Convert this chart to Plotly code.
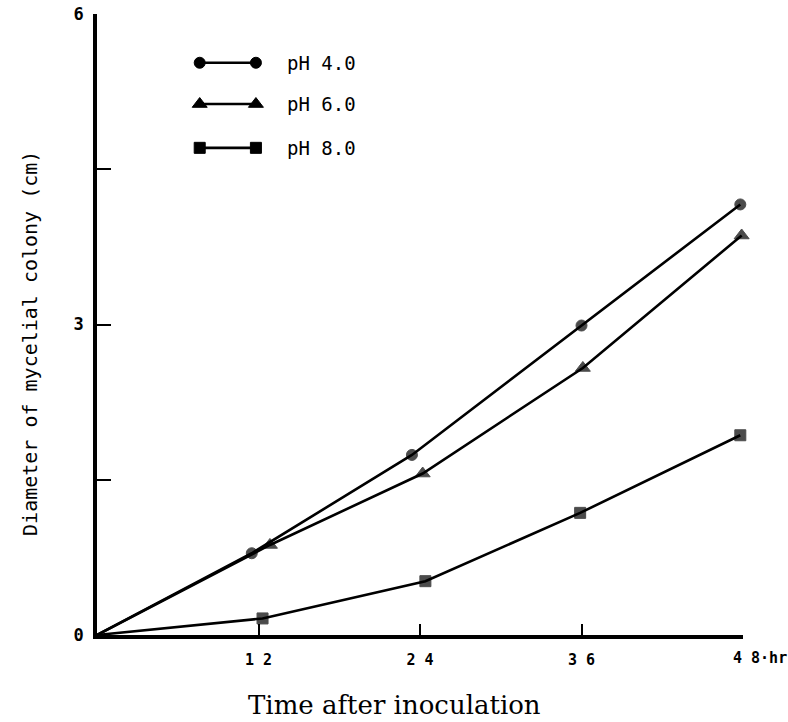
import plotly.graph_objects as go

# Data
series_names = ["pH 4.0", "pH 6.0", "pH 8.0"]
x_ph4 = [0, 11.5, 23.4, 36.0, 47.8]
y_ph4 = [0, 0.79, 1.74, 2.99, 4.16]
x_ph6 = [0, 12.85, 24.2, 36.1, 47.9]
y_ph6 = [0, 0.87, 1.56, 2.58, 3.86]
x_ph8 = [0, 12.3, 24.4, 35.9, 47.8]
y_ph8 = [0, 0.16, 0.52, 1.18, 1.93]
symbols = ["circle", "triangle-up", "square"]

x_tickvals = [12, 24, 36, 48]
x_ticktext = ["1 2", "2 4", "3 6", ""]
y_tickvals = [0, 1.5, 3, 4.5, 6]
y_ticktext = ["0", "", "3", "", "6"]

mono = "DejaVu Sans Mono"
fig = go.Figure()

xs = [x_ph4, x_ph6, x_ph8]
ys = [y_ph4, y_ph6, y_ph8]
sizes = [11, 13, 11]
for name, x, y, sym, sz in zip(series_names, xs, ys, symbols, sizes):
    fig.add_trace(go.Scatter(
        x=x, y=y, mode="lines+markers", name=name,
        line=dict(color="black", width=2.6),
        marker=dict(symbol=sym, color="black", size=[0] + [sz] * (len(x) - 1),
                    line=dict(color="black", width=1)),
        showlegend=False, cliponaxis=False,
    ))

# Custom legend drawn on an overlay axis (0..1 coordinates of the plot area)
leg_y = [0.9215, 0.855, 0.7845]
leg_x = [0.159, 0.246]
for name, sym, sz, ly in zip(series_names, symbols, sizes, leg_y):
    fig.add_trace(go.Scatter(
        x=leg_x, y=[ly, ly], xaxis="x2", yaxis="y2",
        mode="lines+markers", line=dict(color="black", width=2.6),
        marker=dict(symbol=sym, color="black", size=sz,
                    line=dict(color="black", width=1)),
        showlegend=False, hoverinfo="skip", cliponaxis=False,
    ))
    fig.add_annotation(x=0.291, y=ly, xref="x2", yref="y2", text=name,
                       showarrow=False, xanchor="left", yanchor="middle",
                       font=dict(family=mono, size=19, color="black"))

fig.add_annotation(x=48, y=0, xref="x", yref="y", text="4 8·hr",
                   showarrow=False, xanchor="left", yanchor="top",
                   xshift=-12, yshift=-12,
                   font=dict(family=mono, size=15, color="black", weight="bold"))

fig.add_annotation(x=-0.104, y=0.47, xref="paper", yref="paper",
                   text="Diameter of mycelial colony (cm)", textangle=-90,
                   showarrow=False, xanchor="center", yanchor="middle",
                   font=dict(family=mono, size=20, color="black"))

fig.add_annotation(x=0.46, y=-0.113, xref="paper", yref="paper",
                   text="Time after inoculation",
                   showarrow=False, xanchor="center", yanchor="middle",
                   font=dict(family="DejaVu Serif", size=26, color="black"))

fig.update_layout(
    width=788, height=722,
    margin=dict(l=97, r=45, t=14, b=87),
    plot_bgcolor="white", paper_bgcolor="white",
    xaxis=dict(range=[0, 48], tickvals=x_tickvals, ticktext=x_ticktext,
               showgrid=False, zeroline=False, showline=True, automargin=False,
               linecolor="black", linewidth=4, ticks="inside",
               ticklen=11, tickwidth=2, tickcolor="black",
               ticklabelstandoff=8,
               tickfont=dict(family=mono, size=15, color="black", weight="bold")),
    yaxis=dict(range=[0, 6], tickvals=y_tickvals, ticktext=y_ticktext,
               showgrid=False, zeroline=False, showline=True, automargin=False,
               linecolor="black", linewidth=3.5, ticks="inside",
               ticklen=14, tickwidth=2, tickcolor="black",
               ticklabelstandoff=6,
               tickfont=dict(family=mono, size=17, color="black", weight="bold")),
    xaxis2=dict(range=[0, 1], overlaying="x", visible=False),
    yaxis2=dict(range=[0, 1], overlaying="y", visible=False),
    showlegend=False,
)

fig.write_html("out.html", config={"displayModeBar": False},
               post_script="document.body.style.margin='0';document.body.style.padding='0';")
